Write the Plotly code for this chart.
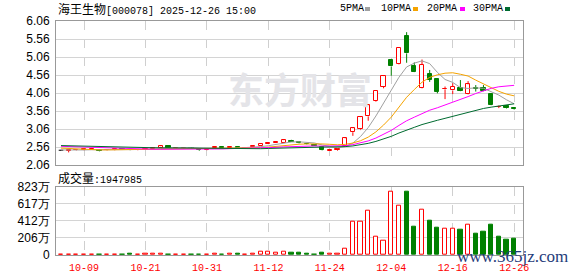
import plotly.graph_objects as go

# ---------------- data ----------------
dates = ["09-26", "09-29", "09-30", "10-09", "10-10", "10-13", "10-14", "10-15", "10-16", "10-17",
         "10-20", "10-21", "10-22", "10-23", "10-24", "10-27", "10-28", "10-29", "10-30", "10-31",
         "11-03", "11-04", "11-05", "11-06", "11-07", "11-10", "11-11", "11-12", "11-13", "11-14",
         "11-17", "11-18", "11-19", "11-20", "11-21", "11-24", "11-25", "11-26", "11-27", "11-28",
         "12-01", "12-02", "12-03", "12-04", "12-05", "12-08", "12-09", "12-10", "12-11", "12-12",
         "12-15", "12-16", "12-17", "12-18", "12-19", "12-22", "12-23", "12-24", "12-25", "12-26"]

opens = [2.47, 2.46, 2.47, 2.48, 2.49, 2.49, 2.47, 2.48, 2.50, 2.49,
         2.48, 2.49, 2.50, 2.54, 2.58, 2.53, 2.53, 2.54, 2.50, 2.48,
         2.52, 2.55, 2.53, 2.55, 2.53, 2.56, 2.60, 2.65, 2.68, 2.68,
         2.74, 2.70, 2.65, 2.62, 2.55, 2.46, 2.48, 2.60, 2.97, 3.05,
         3.41, 3.84, 4.23, 4.99, 4.86, 5.64, 4.81, 4.19, 4.59, 4.45,
         4.16, 4.13, 4.19, 4.03, 4.21, 4.19, 4.03, 3.67, 3.71, 3.64]
highs = [2.48, 2.47, 2.49, 2.51, 2.51, 2.50, 2.50, 2.51, 2.51, 2.50,
         2.50, 2.51, 2.53, 2.60, 2.59, 2.55, 2.55, 2.55, 2.50, 2.50,
         2.56, 2.56, 2.57, 2.55, 2.55, 2.59, 2.66, 2.69, 2.72, 2.76,
         2.76, 2.72, 2.67, 2.63, 2.56, 2.48, 2.52, 2.81, 3.09, 3.40,
         3.73, 4.13, 4.54, 4.99, 5.32, 5.75, 4.91, 4.99, 4.70, 4.46,
         4.24, 4.33, 4.42, 4.39, 4.28, 4.28, 4.04, 3.71, 3.72, 3.66]
lows = [2.46, 2.41, 2.46, 2.47, 2.48, 2.44, 2.46, 2.47, 2.48, 2.47,
        2.47, 2.48, 2.49, 2.53, 2.53, 2.52, 2.52, 2.51, 2.45, 2.47,
        2.51, 2.52, 2.52, 2.52, 2.52, 2.55, 2.59, 2.64, 2.67, 2.67,
        2.70, 2.66, 2.62, 2.59, 2.46, 2.45, 2.46, 2.58, 2.87, 3.03,
        3.29, 3.82, 4.19, 4.54, 4.85, 4.90, 4.64, 4.18, 4.37, 4.05,
        3.89, 4.03, 4.11, 4.02, 4.10, 4.11, 3.72, 3.64, 3.63, 3.60]
closes = [2.47, 2.47, 2.48, 2.50, 2.50, 2.46, 2.49, 2.50, 2.49, 2.48,
          2.49, 2.50, 2.52, 2.58, 2.54, 2.54, 2.54, 2.52, 2.47, 2.49,
          2.55, 2.53, 2.55, 2.53, 2.54, 2.58, 2.65, 2.68, 2.71, 2.75,
          2.71, 2.67, 2.63, 2.60, 2.47, 2.48, 2.51, 2.80, 3.08, 3.39,
          3.72, 4.12, 4.53, 4.80, 5.31, 5.16, 4.65, 4.84, 4.42, 4.10,
          4.17, 4.24, 4.12, 4.30, 4.18, 4.12, 3.73, 3.68, 3.65, 3.62]
# closes of the 29 sessions before the window (needed for the moving averages)
prior_closes = [2.66, 2.65, 2.63, 2.64, 2.62, 2.63, 2.65, 2.66, 2.64, 2.62,
                2.63, 2.64, 2.62, 2.61, 2.63, 2.65, 2.64, 2.62, 2.63, 2.63,
                2.61, 2.60, 2.58, 2.57, 2.54, 2.50, 2.48, 2.47, 2.47]
# volume in 万
volumes = [8, 8, 8, 8, 8, 6, 8, 8, 8, 20,
           8, 20, 20, 20, 8, 8, 8, 8, 6, 8,
           16, 8, 20, 20, 8, 20, 40, 40, 28, 40,
           32, 32, 20, 8, 32, 20, 20, 76, 400, 400,
           531, 220, 172, 759, 591, 763, 344, 543, 415, 332,
           320, 320, 308, 364, 260, 284, 368, 224, 180, 194.8]
last_volume = 1947985

ma_periods = [5, 10, 20, 30]
ma_names = ["5PMA", "10PMA", "20PMA", "30PMA"]
ma_colors = ["#a0a0a0", "#f5a300", "#ff00ff", "#006b30"]

price_ticks = [2.06, 2.56, 3.06, 3.56, 4.06, 4.56, 5.06, 5.56, 6.06]
vol_ticks = [0, 205.75, 411.5, 617.25, 823]
vol_ticktext = ["0", "206万", "412万", "617万", "823万"]
label_idx = [3, 11, 19, 27, 35, 43, 51, 59]

title_name = "海王生物"
title_code = "[000078] 2025-12-26 15:00"

RED = "#ff0000"
GREEN = "#008000"

n = len(closes)
xs = list(range(n))

fig = go.Figure()

# ---- candle wicks ----
wick = {"r": ([], []), "g": ([], []), "k": ([], [])}
bodies = {"r": ([], [], []), "g": ([], [], [])}
doji = ([], [])
for i in range(n):
    o, h, l, c = opens[i], highs[i], lows[i], closes[i]
    k = "r" if c > o else ("g" if c < o else "k")
    top, bot = max(o, c), min(o, c)
    wx, wy = wick[k]
    if h > top:
        wx += [i, i, None]
        wy += [top, h, None]
    if l < bot:
        wx += [i, i, None]
        wy += [bot, l, None]
    if k == "k":
        doji[0].extend([i - 0.3, i + 0.3, None])
        doji[1].extend([c, c, None])
    else:
        bodies[k][0].append(i)
        bodies[k][1].append(top - bot)
        bodies[k][2].append(bot)

fig.add_trace(go.Bar(x=bodies["r"][0], y=bodies["r"][1], base=bodies["r"][2], width=0.55,
                     marker=dict(color="white", line=dict(color=RED, width=1)),
                     xaxis="x", yaxis="y", showlegend=False))
fig.add_trace(go.Bar(x=bodies["g"][0], y=bodies["g"][1], base=bodies["g"][2], width=0.55,
                     marker=dict(color=GREEN, line=dict(color=GREEN, width=1)),
                     xaxis="x", yaxis="y", showlegend=False))
for k, col in (("r", RED), ("g", GREEN), ("k", "#000000")):
    fig.add_trace(go.Scatter(x=wick[k][0], y=wick[k][1], mode="lines",
                             line=dict(color=col, width=1), xaxis="x", yaxis="y",
                             showlegend=False, hoverinfo="skip"))
fig.add_trace(go.Scatter(x=doji[0], y=doji[1], mode="lines", line=dict(color="#000000", width=1),
                         xaxis="x", yaxis="y", showlegend=False, hoverinfo="skip"))

# ---- moving averages ----
full = prior_closes + closes
off = len(prior_closes)
for p, col in zip(ma_periods, ma_colors):
    ma = [sum(full[off + i - p + 1: off + i + 1]) / p for i in range(n)]
    fig.add_trace(go.Scatter(x=xs, y=ma, mode="lines", line=dict(color=col, width=1),
                             xaxis="x", yaxis="y", showlegend=False, hoverinfo="skip"))

# ---- volume ----
prev = [prior_closes[-1]] + closes[:-1]
vr = [(i, v) for i, v in enumerate(volumes) if closes[i] >= prev[i]]
vg = [(i, v) for i, v in enumerate(volumes) if closes[i] < prev[i]]
fig.add_trace(go.Bar(x=[a for a, _ in vr], y=[b for _, b in vr], width=0.55,
                     marker=dict(color="white", line=dict(color=RED, width=1)),
                     xaxis="x2", yaxis="y2", showlegend=False))
fig.add_trace(go.Bar(x=[a for a, _ in vg], y=[b for _, b in vg], width=0.55,
                     marker=dict(color=GREEN, line=dict(color=GREEN, width=1)),
                     xaxis="x2", yaxis="y2", showlegend=False))

# ---------------- layout ----------------
W, H = 578, 276
ML, MR, MT, MB = 56, 55, 21, 21
PW, PH = W - ML - MR, H - MT - MB


def px(xp):
    return (xp - ML) / PW


def py(yp):
    return (H - MB - yp) / PH


xr = [-0.65, 60.15]
axis_common = dict(range=xr, tickvals=label_idx, showgrid=True, griddash="dash",
                   gridcolor="#cfcfcf", gridwidth=1, zeroline=False, showline=True,
                   mirror=True, linecolor="#999999", linewidth=1, ticks="", fixedrange=True,
                   automargin=False)
tickfont = dict(family="Liberation Sans, Arial", size=12, color="#000000")

fig.update_layout(
    width=W, height=H, margin=dict(l=ML, r=MR, t=MT, b=MB, autoexpand=False),
    paper_bgcolor="white", plot_bgcolor="white", barmode="overlay", bargap=0,
    showlegend=False,
    xaxis=dict(domain=[0, 1], anchor="y", showticklabels=False, **axis_common),
    xaxis2=dict(domain=[0, 1], anchor="y2", ticktext=[dates[i] for i in label_idx],
                tickfont=dict(family="Liberation Mono", size=10, color=RED),
                ticklabelstandoff=3, **axis_common),
    yaxis=dict(domain=[py(165), 1], range=[price_ticks[0], price_ticks[-1]],
               tickvals=price_ticks, ticktext=["%.2f" % t for t in price_ticks],
               showgrid=True, gridcolor="#d4d4d4", zeroline=False, showline=True, mirror=True,
               linecolor="#999999", ticks="", tickfont=tickfont, ticklabelstandoff=3,
               automargin=False),
    yaxis2=dict(domain=[0, py(186.7)], range=[vol_ticks[0], vol_ticks[-1]],
                tickvals=vol_ticks, ticktext=vol_ticktext,
                showgrid=True, gridcolor="#d4d4d4", zeroline=False, showline=True, mirror=True,
                linecolor="#999999", ticks="", tickfont=tickfont, ticklabelstandoff=3,
                automargin=False),
)

cjk = "font-family:'Noto Sans CJK SC';font-size:12px"
mono = "font-family:'Liberation Mono';font-size:10px"
ann = []
ann.append(dict(x=px(56), y=py(8.5), xref="paper", yref="paper", xanchor="left", yanchor="middle",
                showarrow=False, font=dict(color="#000000", size=10, family="Liberation Mono"),
                text=f"<span style=\"{cjk}\">{title_name}</span><span style=\"{mono}\">{title_code}</span>"))
ann.append(dict(x=px(56), y=py(177), xref="paper", yref="paper", xanchor="left", yanchor="middle",
                showarrow=False, font=dict(color="#000000", size=10, family="Liberation Mono"),
                text=f"<span style=\"{cjk}\">成交量</span><span style=\"{mono}\">:{last_volume}</span>"))
leg_x = [339, 380, 426, 472]
sq_x = [365, 413, 460, 505]
shapes = []
for name, col, lx, sx in zip(ma_names, ma_colors, leg_x, sq_x):
    ann.append(dict(x=px(lx), y=py(9), xref="paper", yref="paper", xanchor="left", yanchor="middle",
                    showarrow=False, text=name, borderpad=0,
                    font=dict(family="Liberation Mono", size=10, color="#000000")))
    shapes.append(dict(type="rect", xref="paper", yref="paper", x0=px(sx), x1=px(sx + 5),
                       y0=py(11), y1=py(7), fillcolor=col, line=dict(width=0)))
# watermarks
ann.append(dict(x=px(300), y=py(88), xref="paper", yref="paper", xanchor="center", yanchor="middle",
                showarrow=False, text="<b>东方财富</b>",
                font=dict(family="Noto Sans CJK SC", size=36, color="#e4e4e8")))
ann.append(dict(x=px(512), y=py(256), xref="paper", yref="paper", xanchor="center", yanchor="middle",
                showarrow=False, text="www.365jz.com",
                font=dict(family="Liberation Serif", size=17, color="#1f3c7a")))
fig.update_layout(annotations=ann, shapes=shapes)

fig.write_html("out.html")
